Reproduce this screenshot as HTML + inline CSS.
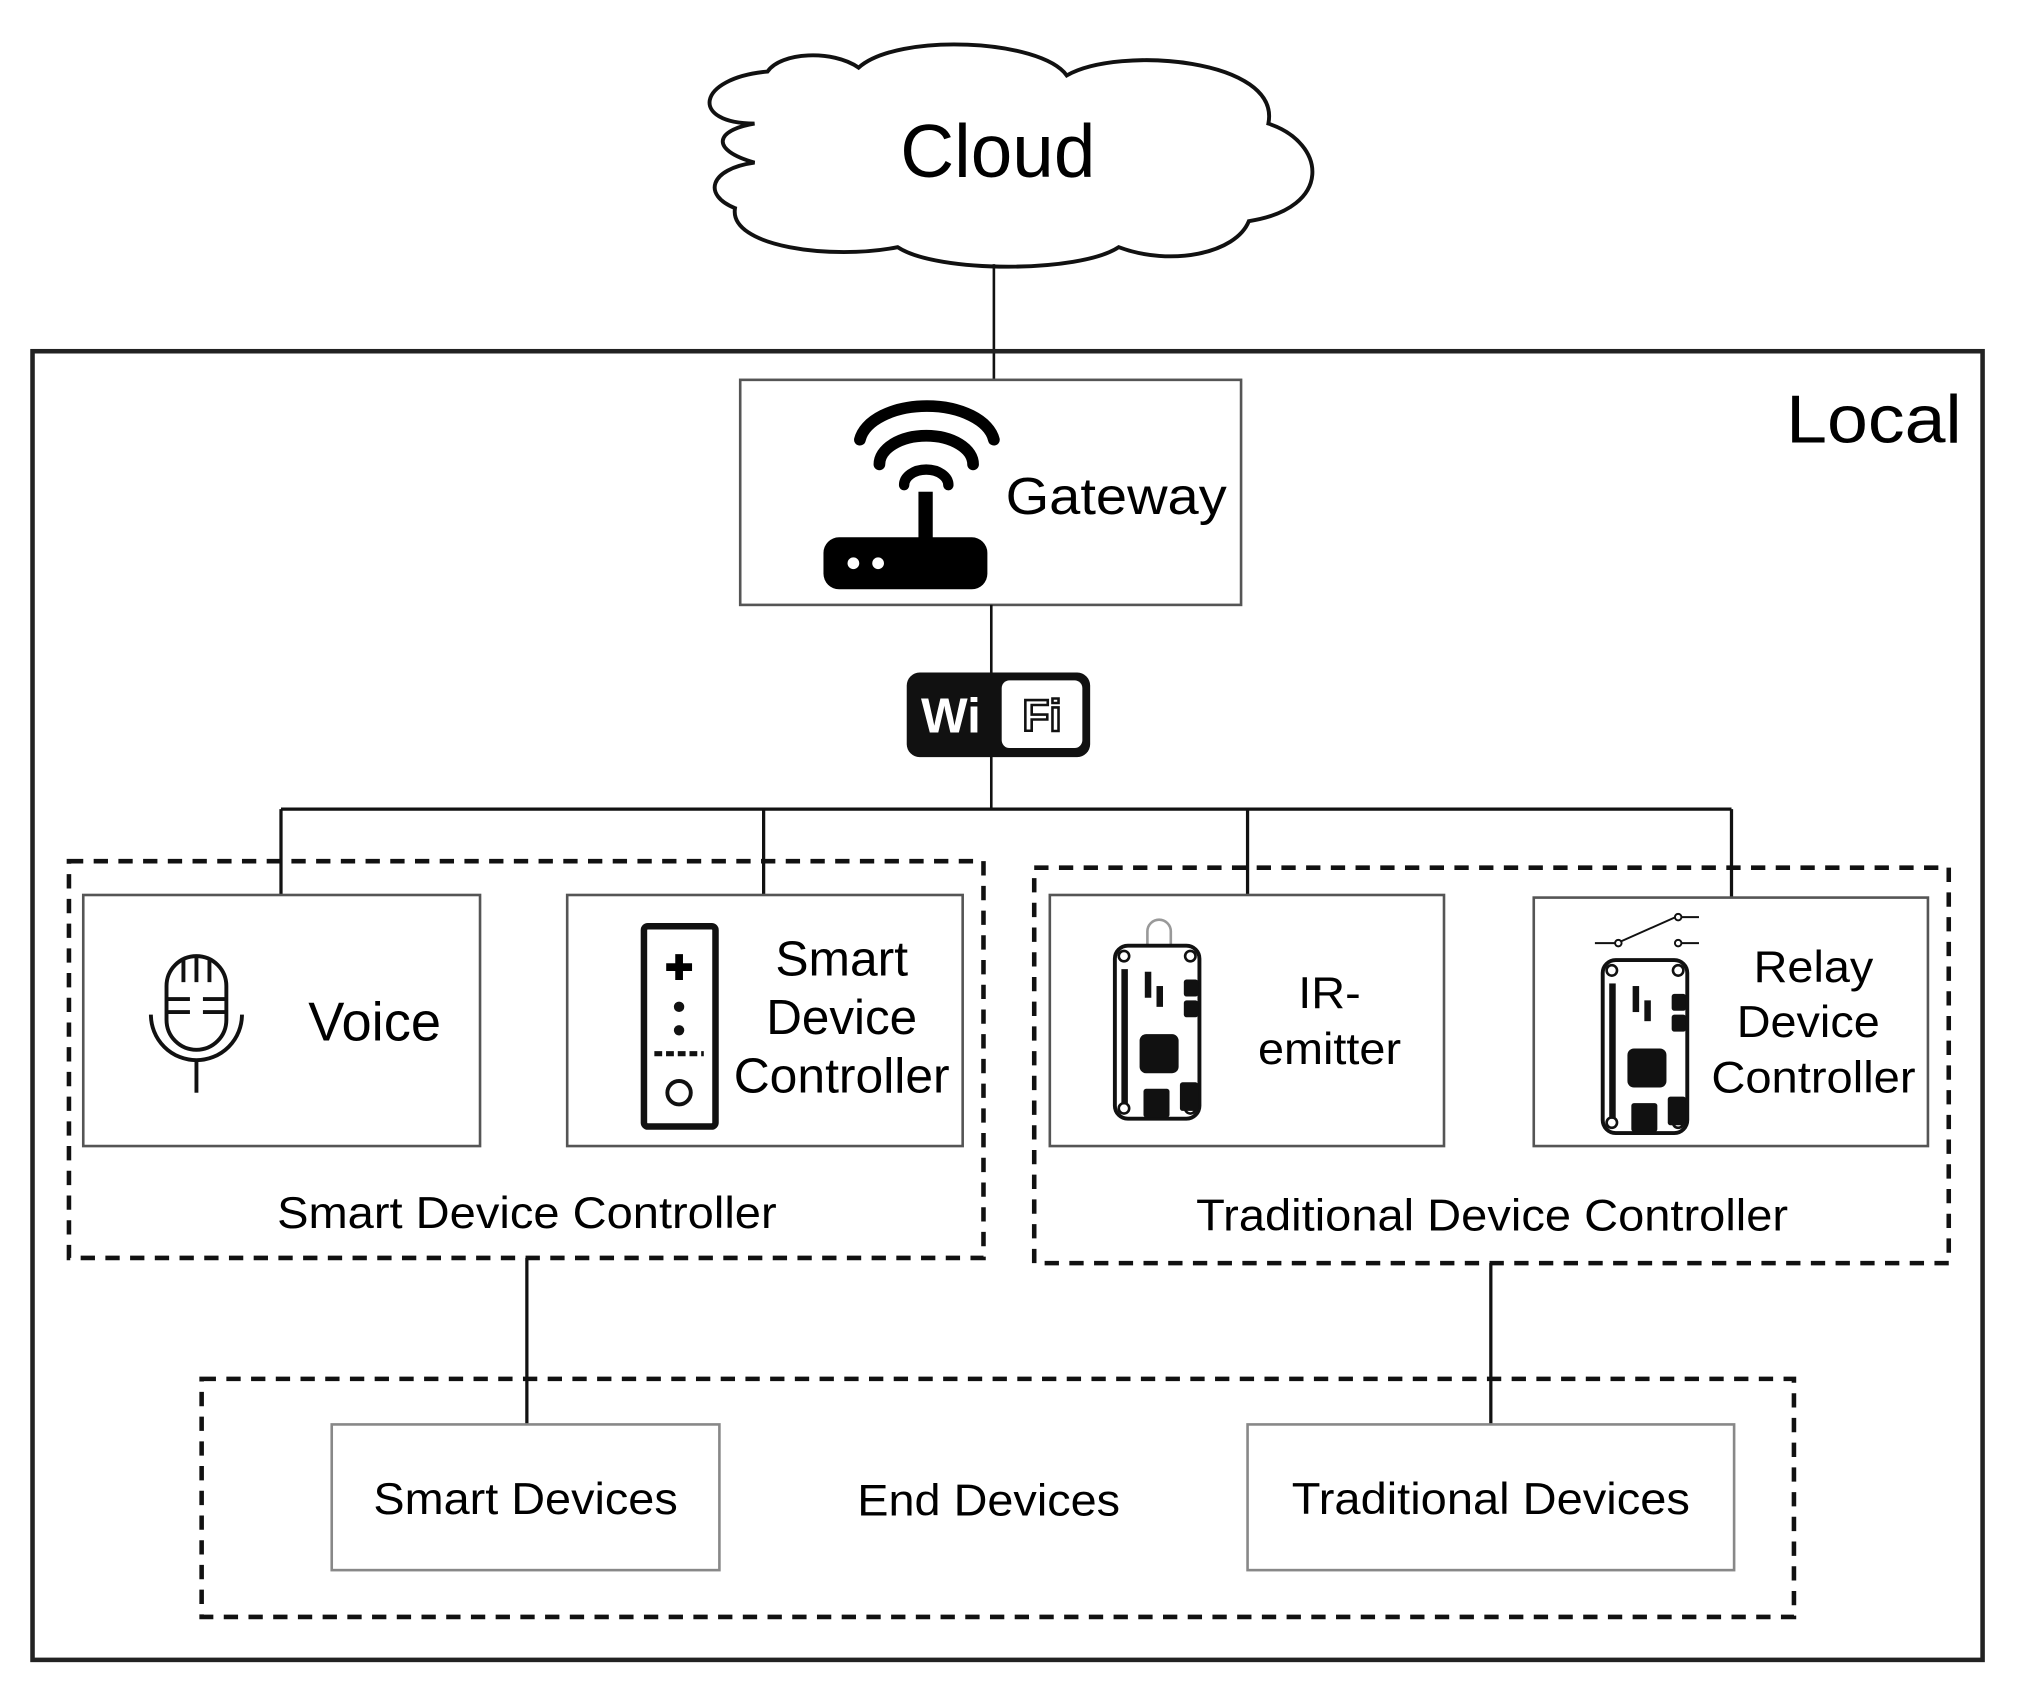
<!DOCTYPE html>
<html><head><meta charset="utf-8"><style>html,body{margin:0;padding:0;background:#fff}svg{display:block}</style></head>
<body>
<svg width="2019" height="1682" viewBox="0 0 1552 1293" preserveAspectRatio="none" xmlns="http://www.w3.org/2000/svg" font-family="Liberation Sans, Arial, sans-serif">
<defs>
<g id="board">
  <rect x="0" y="0" width="65" height="133" rx="10" fill="#fff" stroke="#111" stroke-width="3"/>
  <circle cx="7" cy="8" r="4" fill="none" stroke="#111" stroke-width="2"/>
  <circle cx="58" cy="8" r="4" fill="none" stroke="#111" stroke-width="2"/>
  <circle cx="7" cy="125" r="4" fill="none" stroke="#111" stroke-width="2"/>
  <circle cx="58" cy="125" r="4" fill="none" stroke="#111" stroke-width="2"/>
  <rect x="5" y="18" width="5" height="104" fill="#111"/>
  <rect x="23" y="20" width="5" height="20" fill="#111"/>
  <rect x="32" y="31" width="5" height="16" fill="#111"/>
  <rect x="53" y="26" width="11" height="13" rx="2" fill="#111"/>
  <rect x="53" y="42" width="11" height="13" rx="2" fill="#111"/>
  <rect x="19" y="68" width="30" height="30" rx="5" fill="#111"/>
  <rect x="50" y="105" width="14" height="22" rx="2" fill="#111"/>
  <rect x="22" y="110" width="20" height="22" rx="2" fill="#111"/>
</g>
</defs>
<!-- cloud -->
<path d="M580,95 C530,95 535,60 590,55 C600,40 640,38 660,52 C690,25 800,30 820,58 C860,35 985,45 975,95 C1020,110 1025,160 960,170 C950,195 900,205 860,190 C830,210 720,210 690,190 C640,200 560,190 565,160 C540,150 545,130 580,125 C545,115 550,100 580,95 Z" fill="#fff" stroke="#111" stroke-width="3"/>
<text x="767" y="136" font-size="58" text-anchor="middle" textLength="150" lengthAdjust="spacingAndGlyphs">Cloud</text>
<line x1="764" y1="203" x2="764" y2="292" stroke="#111" stroke-width="2"/>
<!-- local -->
<rect x="25" y="270" width="1499" height="1006" fill="none" stroke="#222" stroke-width="3.5"/>
<text x="1508" y="340" font-size="52" text-anchor="end" textLength="135" lengthAdjust="spacingAndGlyphs">Local</text>
<!-- gateway -->
<rect x="569" y="292" width="385" height="173" fill="#fff" stroke="#555" stroke-width="2"/>
<g fill="none" stroke="#000" stroke-linecap="round">
  <path d="M661,338 A52,30 0 0 1 764,338" stroke-width="9"/>
  <path d="M676,357 A36,22 0 0 1 748,357" stroke-width="9"/>
  <path d="M695,373 A17,12 0 0 1 729,373" stroke-width="8"/>
</g>
<rect x="706" y="378" width="11" height="40" fill="#000"/>
<rect x="633" y="413" width="126" height="40" rx="12" fill="#000"/>
<circle cx="656" cy="433" r="4.5" fill="#fff"/><circle cx="675" cy="433" r="4.5" fill="#fff"/>
<text x="773" y="395" font-size="40" textLength="170" lengthAdjust="spacingAndGlyphs">Gateway</text>
<line x1="762" y1="465" x2="762" y2="622" stroke="#111" stroke-width="2"/>
<!-- wifi badge -->
<rect x="697" y="517" width="141" height="65" rx="10" fill="#111"/>
<rect x="770" y="523" width="62" height="52" rx="6" fill="#fff"/>
<text x="731" y="563" font-size="38" font-weight="bold" fill="#fff" text-anchor="middle">Wi</text>
<text x="801" y="562" font-size="34" font-weight="bold" fill="#fff" stroke="#111" stroke-width="2" text-anchor="middle">Fi</text>
<!-- bus -->
<g stroke="#111" stroke-width="2.5" fill="none">
<line x1="216" y1="622" x2="1331" y2="622"/>
<line x1="216" y1="622" x2="216" y2="688"/>
<line x1="587" y1="622" x2="587" y2="688"/>
<line x1="959" y1="622" x2="959" y2="688"/>
<line x1="1331" y1="622" x2="1331" y2="690"/>
</g>
<!-- dashed groups -->
<g fill="none" stroke="#111" stroke-width="3.5" stroke-dasharray="11,8">
<rect x="53" y="662" width="703" height="305"/>
<rect x="795" y="667" width="703" height="304"/>
<rect x="155" y="1060" width="1224" height="183"/>
</g>
<!-- boxes -->
<g fill="#fff" stroke="#555" stroke-width="2">
<rect x="64" y="688" width="305" height="193"/>
<rect x="436" y="688" width="304" height="193"/>
<rect x="807" y="688" width="303" height="193"/>
<rect x="1179" y="690" width="303" height="191"/>
</g>
<!-- mic -->
<g fill="none" stroke="#111" stroke-width="3">
<rect x="128" y="735" width="46" height="72" rx="23"/>
<path d="M116,780 A35,35 0 0 0 186,780"/>
<line x1="151" y1="815" x2="151" y2="840"/>
<line x1="128" y1="768" x2="146" y2="768"/><line x1="156" y1="768" x2="174" y2="768"/>
<line x1="128" y1="778" x2="146" y2="778"/><line x1="156" y1="778" x2="174" y2="778"/>
<line x1="141" y1="737" x2="141" y2="755"/><line x1="151" y1="736" x2="151" y2="755"/><line x1="161" y1="737" x2="161" y2="755"/>
</g>
<text x="237" y="800" font-size="42" textLength="102" lengthAdjust="spacingAndGlyphs">Voice</text>
<!-- remote -->
<rect x="495" y="712" width="55" height="154" rx="3" fill="#fff" stroke="#111" stroke-width="5"/>
<text x="522" y="753" font-size="26" font-weight="bold" text-anchor="middle">✚</text>
<circle cx="522" cy="774" r="4" fill="#111"/><circle cx="522" cy="792" r="4" fill="#111"/>
<line x1="503" y1="810" x2="541" y2="810" stroke="#111" stroke-width="4" stroke-dasharray="6,3"/>
<circle cx="522" cy="840" r="9" fill="none" stroke="#111" stroke-width="3"/>
<g font-size="38" text-anchor="middle">
<text x="647" y="750" textLength="102" lengthAdjust="spacingAndGlyphs">Smart</text>
<text x="647" y="795" textLength="116" lengthAdjust="spacingAndGlyphs">Device</text>
<text x="647" y="840" textLength="166" lengthAdjust="spacingAndGlyphs">Controller</text>
</g>
<!-- IR board -->
<path d="M882,728 v-12 a9,9 0 0 1 18,0 v12 M885,728 v8 M897,728 v8" fill="none" stroke="#999" stroke-width="2"/>
<use href="#board" x="857" y="727"/>
<g font-size="34" text-anchor="middle">
<text x="1022" y="775" textLength="48" lengthAdjust="spacingAndGlyphs">IR-</text>
<text x="1022" y="818" textLength="110" lengthAdjust="spacingAndGlyphs">emitter</text>
</g>
<!-- relay -->
<g stroke="#111" stroke-width="1.5" fill="#fff">
<line x1="1226" y1="725" x2="1242" y2="725"/><line x1="1243" y1="725" x2="1288" y2="705"/>
<line x1="1292" y1="705" x2="1306" y2="705"/><line x1="1292" y1="725" x2="1306" y2="725"/>
<circle cx="1244" cy="725" r="2.5"/><circle cx="1290" cy="705" r="2.5"/><circle cx="1290" cy="725" r="2.5"/>
</g>
<use href="#board" x="1232" y="738"/>
<g font-size="34" text-anchor="middle">
<text x="1394" y="755" textLength="92" lengthAdjust="spacingAndGlyphs">Relay</text>
<text x="1390" y="797" textLength="110" lengthAdjust="spacingAndGlyphs">Device</text>
<text x="1394" y="840" textLength="157" lengthAdjust="spacingAndGlyphs">Controller</text>
</g>
<!-- group labels -->
<text x="405" y="944" font-size="34" text-anchor="middle" textLength="384" lengthAdjust="spacingAndGlyphs">Smart Device Controller</text>
<text x="1147" y="946" font-size="34" text-anchor="middle" textLength="455" lengthAdjust="spacingAndGlyphs">Traditional Device Controller</text>
<!-- lower lines -->
<line x1="405" y1="967" x2="405" y2="1095" stroke="#111" stroke-width="2.5"/>
<line x1="1146" y1="971" x2="1146" y2="1095" stroke="#111" stroke-width="2.5"/>
<!-- end devices -->
<rect x="255" y="1095" width="298" height="112" fill="#fff" stroke="#888" stroke-width="2"/>
<rect x="959" y="1095" width="374" height="112" fill="#fff" stroke="#888" stroke-width="2"/>
<text x="404" y="1164" font-size="34" text-anchor="middle" textLength="234" lengthAdjust="spacingAndGlyphs">Smart Devices</text>
<text x="760" y="1165" font-size="34" text-anchor="middle" textLength="202" lengthAdjust="spacingAndGlyphs">End Devices</text>
<text x="1146" y="1164" font-size="34" text-anchor="middle" textLength="306" lengthAdjust="spacingAndGlyphs">Traditional Devices</text>
</svg>
</body></html>
